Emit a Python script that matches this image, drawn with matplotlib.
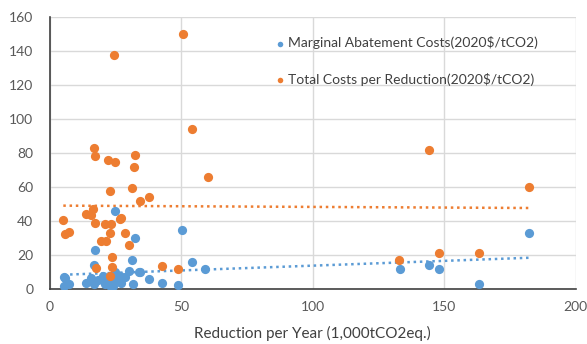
import numpy as np
import matplotlib
matplotlib.use("Agg")
import matplotlib.pyplot as plt

plt.rcParams['font.family'] = ['Lato', 'DejaVu Sans']

# Marginal abatement costs (blue)
mac_x = [5.3, 7.2, 5.7, 5.4, 13.9, 15.8, 16.7, 18.4, 20.3, 21.0, 22.4, 23.4, 24.7, 24.7,
         26.6, 27.2, 28.5, 30.2, 31.7, 34.1, 37.5, 42.8, 48.8, 24.6, 32.3, 17.2, 16.6,
         31.3, 34.0, 24.1, 50.4, 54.0, 59.0, 133.0, 144.0, 148.0, 163.0, 182.0]
mac_y = [1.5, 2.8, 6.2, 7.0, 3.7, 6.3, 2.9, 5.3, 7.6, 2.9, 5.3, 1.4, 10.2, 5.3,
         7.6, 3.3, 6.9, 10.8, 2.9, 9.8, 6.0, 3.7, 2.2, 45.9, 30.2, 22.7, 14.1,
         17.2, 10.0, 1.8, 35.0, 15.7, 11.8, 12.0, 14.0, 12.0, 3.0, 33.0]

# Total costs per reduction (orange)
tc_x = [5.1, 5.6, 7.1, 13.9, 15.8, 16.5, 17.2, 16.7, 17.2, 22.0, 24.6, 32.3, 31.8,
        22.9, 31.3, 34.1, 37.5, 21.0, 23.4, 23.0, 19.6, 21.5, 26.6, 27.0, 28.4,
        30.2, 23.8, 23.8, 17.6, 22.8, 42.7, 48.8, 24.5, 50.5, 54.2, 60.0, 132.8,
        144.0, 148.0, 163.0, 182.0]
tc_y = [40.6, 32.2, 33.4, 44.1, 43.5, 47.0, 39.0, 82.7, 78.2, 75.9, 74.9, 78.8, 72.0,
        57.8, 59.2, 51.8, 54.0, 38.4, 38.4, 33.1, 28.4, 28.4, 41.0, 41.6, 32.9,
        26.0, 18.8, 13.1, 12.2, 7.6, 13.5, 12.0, 137.8, 150.0, 94.0, 66.0, 17.0,
        82.0, 21.0, 21.0, 60.0]

blue = '#5B9BD5'
orange = '#ED7D31'
fs = 10

fig = plt.figure(figsize=(5.87, 3.44), dpi=100)
ax = fig.add_axes([0.085, 0.16, 0.896, 0.79])

ax.scatter(mac_x, mac_y, s=44, color=blue, zorder=3, linewidths=0,
           label='Marginal Abatement Costs(2020$/tCO2)')
ax.scatter(tc_x, tc_y, s=44, color=orange, zorder=3, linewidths=0,
           label='Total Costs per Reduction(2020$/tCO2)')

# linear trend lines
for xs, ys, c in [(mac_x, mac_y, blue), (tc_x, tc_y, orange)]:
    k, b = np.polyfit(xs, ys, 1)
    xx = np.array([min(xs), max(xs)])
    ax.plot(xx, k * xx + b, linestyle=(0, (1, 1.5)), color=c, lw=1.8, zorder=2)

ax.set_xlim(0, 200)
ax.set_ylim(0, 160)
ax.set_xticks(range(0, 201, 50))
ax.set_yticks(range(0, 161, 20))
ax.grid(True, color='#d9d9d9', lw=1)
ax.set_axisbelow(True)
for s in ['top', 'right']:
    ax.spines[s].set_visible(False)
for s in ['left', 'bottom']:
    ax.spines[s].set_color('#404040')
    ax.spines[s].set_linewidth(1.2)
ax.tick_params(length=0, labelsize=fs, colors='#595959')
ax.tick_params(axis='x', pad=9)
ax.tick_params(axis='y', pad=12)
ax.set_xlabel('Reduction per Year (1,000tCO2eq.)', fontsize=11, color='#404040', labelpad=9)

leg = ax.legend(loc='upper left', bbox_to_anchor=(0.4, 0.975), frameon=False,
                fontsize=fs, markerscale=0.6, handlelength=1.0, handletextpad=0.1,
                labelspacing=1.7)
for t in leg.get_texts():
    t.set_color('#404040')

fig.savefig('out.png', dpi=100, facecolor='white')
